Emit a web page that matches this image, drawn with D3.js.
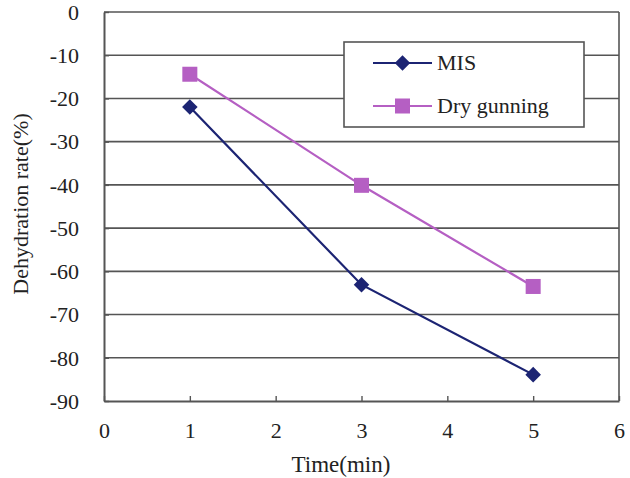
<!DOCTYPE html>
<html><head><meta charset="utf-8">
<script src="https://cdn.jsdelivr.net/npm/d3@7"></script>
<style>body{margin:0;background:#fff}svg{display:block}</style>
</head><body>
<svg id="c" width="630" height="478"></svg>
<script>
const times = [1, 3, 5];
const misValues = [-22.0, -63.1, -83.9];
const dryValues = [-14.4, -40.1, -63.5];
const seriesNames = ["MIS", "Dry gunning"];
const xTicks = [0, 1, 2, 3, 4, 5, 6];
const yTicks = [0, -10, -20, -30, -40, -50, -60, -70, -80, -90];

const svg = d3.select("#c");
const L = 104, R = 619, T = 12, B = 401;
const x = d3.scaleLinear().domain([0, 6]).range([L, R]);
const y = d3.scaleLinear().domain([0, -90]).range([T, B]);
const font = "'Liberation Serif', 'Times New Roman', serif";
const gridCol = "#555";
const txtCol = "#222";

// gridlines
svg.append("g").selectAll("line").data(yTicks.filter(d => d !== -90)).join("line")
  .attr("x1", L).attr("x2", R).attr("y1", d => y(d)).attr("y2", d => y(d))
  .attr("stroke", gridCol).attr("stroke-width", 1.6);
// right border
svg.append("line").attr("x1", R).attr("x2", R).attr("y1", T).attr("y2", B)
  .attr("stroke", gridCol).attr("stroke-width", 1.6);

// axes
const fmt = d => String(d);
const xAxis = svg.append("g").attr("transform", `translate(0,${B})`)
  .call(d3.axisBottom(x).tickValues(xTicks).tickFormat(fmt).tickSizeInner(-5).tickSizeOuter(0));
const yAxis = svg.append("g").attr("transform", `translate(${L},0)`)
  .call(d3.axisLeft(y).tickValues(yTicks).tickFormat(fmt).tickSizeInner(-5).tickSizeOuter(0).tickPadding(25));
[xAxis, yAxis].forEach(g => {
  g.select(".domain").attr("stroke", gridCol).attr("stroke-width", 2);
  g.selectAll(".tick line").attr("stroke", gridCol).attr("stroke-width", 1.4);
  g.selectAll("text").attr("font-family", font).attr("font-size", 22).attr("fill", txtCol);
});
xAxis.selectAll("text").attr("y", 37).attr("dy", null);
yAxis.selectAll("text").attr("dy", "0.33em");

// axis titles
svg.append("text").attr("x", 341).attr("y", 472).attr("text-anchor", "middle")
  .attr("font-family", font).attr("font-size", 23).attr("fill", txtCol).text("Time(min)");
svg.append("text").attr("transform", "translate(28,204) rotate(-90)").attr("text-anchor", "middle")
  .attr("font-family", font).attr("font-size", 22).attr("fill", txtCol).text("Dehydration rate(%)");

const colors = ["#1c2473", "#b55fc3"];
const data = [misValues, dryValues];
const line = d3.line().x((d, i) => x(times[i])).y(d => y(d));

function drawMarker(g, idx, cx, cy) {
  if (idx === 0) {
    g.append("rect").attr("x", cx - 5.5).attr("y", cy - 5.5).attr("width", 11).attr("height", 11)
      .attr("transform", `rotate(45,${cx},${cy})`).attr("fill", colors[0]);
  } else {
    g.append("rect").attr("x", cx - 7.5).attr("y", cy - 7.5).attr("width", 15).attr("height", 15)
      .attr("fill", colors[1]);
  }
}

data.forEach((vals, si) => {
  svg.append("path").datum(vals).attr("d", line).attr("fill", "none")
    .attr("stroke", colors[si]).attr("stroke-width", 2.2);
  const g = svg.append("g");
  vals.forEach((v, i) => drawMarker(g, si, x(times[i]), y(v)));
});

// legend
const lg = svg.append("g");
lg.append("rect").attr("x", 344).attr("y", 42).attr("width", 240).attr("height", 85)
  .attr("fill", "#fff").attr("stroke", gridCol).attr("stroke-width", 1.6);
const legY = [63, 106];
seriesNames.forEach((n, i) => {
  lg.append("line").attr("x1", 373).attr("x2", 432).attr("y1", legY[i]).attr("y2", legY[i])
    .attr("stroke", colors[i]).attr("stroke-width", 2.2);
  drawMarker(lg, i, 402.5, legY[i]);
  lg.append("text").attr("x", 437).attr("y", legY[i]).attr("dy", "0.33em")
    .attr("font-family", font).attr("font-size", 22).attr("fill", txtCol).text(n);
});
</script>
</body></html>
